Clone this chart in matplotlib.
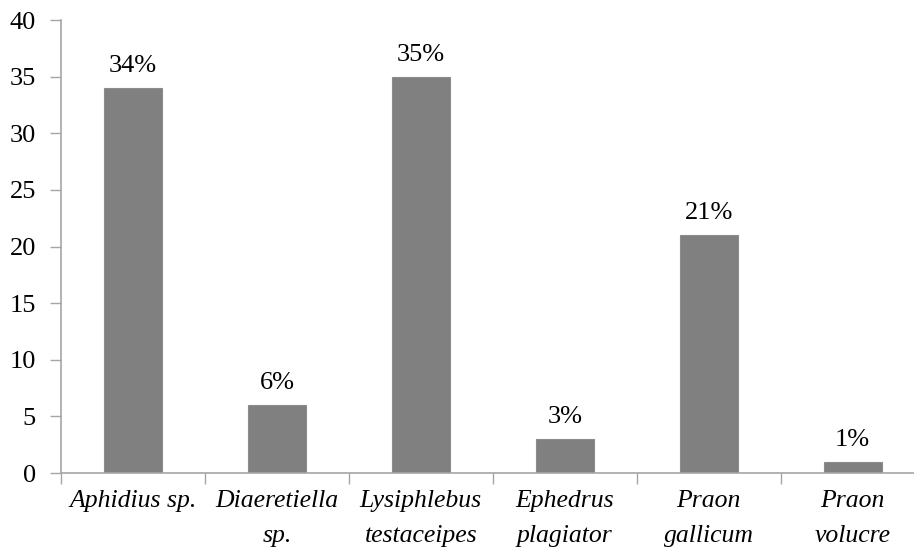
import matplotlib
matplotlib.use('Agg')
import matplotlib.pyplot as plt
import numpy as np

plt.rcParams['font.family'] = ['Liberation Serif', 'DejaVu Serif']

species = ['Aphidius sp.', 'Diaeretiella\nsp.', 'Lysiphlebus\ntestaceipes',
           'Ephedrus\nplagiator', 'Praon\ngallicum', 'Praon\nvolucre']
values = [34, 6, 35, 3, 21, 1]
labels = ['34%', '6%', '35%', '3%', '21%', '1%']

axis_grey = '#a6a6a6'
fs = 19

fig = plt.figure(figsize=(9.14, 5.49), dpi=100)
# right end of the axis runs past the figure edge
ax = fig.add_axes([0.0667, 0.1384, 0.945, 0.825])

x = np.arange(len(values))
ax.bar(x, values, width=0.4, color='#808080', edgecolor='#8c8c8c', linewidth=0.8, zorder=2)

for xi, v, lab in zip(x, values, labels):
    ax.annotate(lab, (xi, v), xytext=(0, 8), textcoords='offset points',
                ha='center', va='bottom', fontsize=fs)

ax.set_xlim(-0.5, len(values) - 0.5)
ax.set_ylim(0, 40)
ax.set_yticks(np.arange(0, 41, 5))

# category boundaries carry the x ticks, names sit between them
ax.set_xticks(np.arange(len(values) + 1) - 0.5)
ax.set_xticklabels([])
ax.set_xticks(x, minor=True)
ax.set_xticklabels(species, minor=True, fontsize=18.5, style='italic', linespacing=1.8)
ax.tick_params(axis='x', which='minor', length=0, pad=12)
ax.tick_params(axis='x', which='major', length=8, width=1, color=axis_grey)
ax.tick_params(axis='y', length=8, width=1, color=axis_grey, labelsize=fs, pad=10)

for side in ['top', 'right']:
    ax.spines[side].set_visible(False)
for side in ['left', 'bottom']:
    ax.spines[side].set_color(axis_grey)
    ax.spines[side].set_linewidth(1.2)

fig.savefig('out.png', dpi=100)
